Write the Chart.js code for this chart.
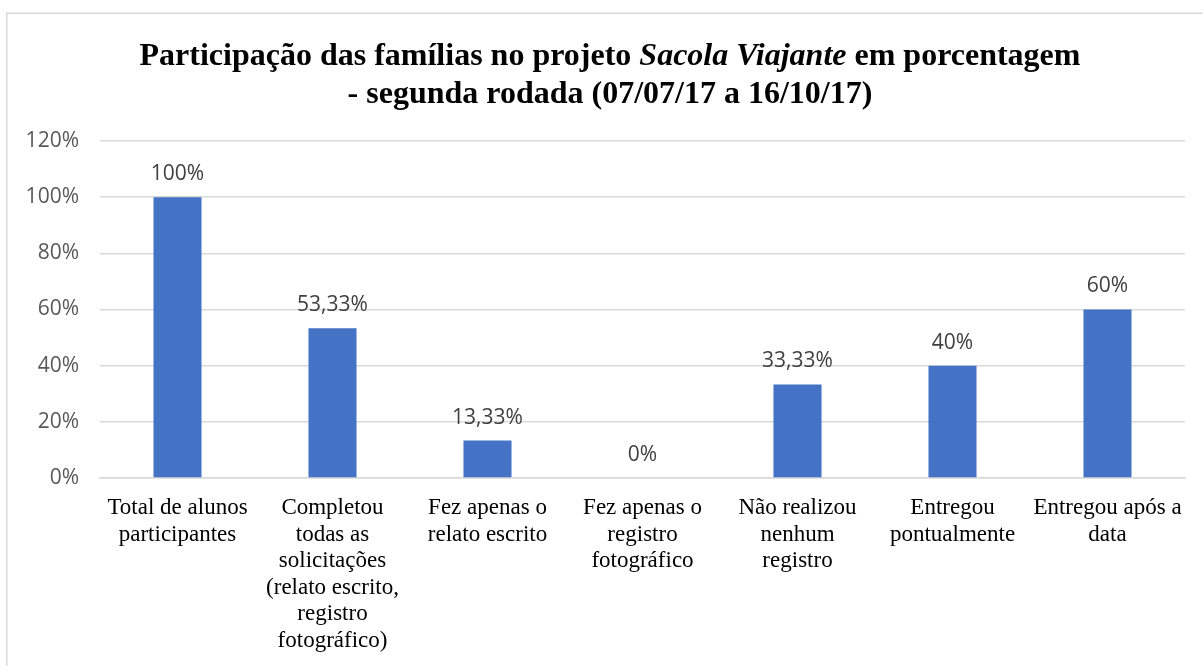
<!DOCTYPE html>
<html>
<head>
<meta charset="utf-8">
<script src="https://cdn.jsdelivr.net/npm/chart.js@4.4.1/dist/chart.umd.min.js"></script>
<style>
  body { margin: 0; background: #fff; }
  #wrap { position: relative; width: 1203px; height: 666px; }
</style>
</head>
<body>
<div id="wrap"><canvas id="c" width="1203" height="666"></canvas></div>
<script>
const categories = [
    ['Total de alunos', 'participantes'],
    ['Completou', 'todas as', 'solicitações', '(relato escrito,', 'registro', 'fotográfico)'],
    ['Fez apenas o', 'relato escrito'],
    ['Fez apenas o', 'registro', 'fotográfico'],
    ['Não realizou', 'nenhum', 'registro'],
    ['Entregou', 'pontualmente'],
    ['Entregou após a', 'data']
]
const values = [100, 53.33, 13.33, 0, 33.33, 40, 60]
const yTicks = [0, 20, 40, 60, 80, 100, 120]

// title pieces: [text, italic]
const titleLine1 = [['Participação das famílias no projeto ', false], ['Sacola Viajante', true], [' em porcentagem', false]]
const titleLine2 = [['- segunda rodada (07/07/17 a 16/10/17)', false]]

const serif = '"Liberation Serif", "Times New Roman", serif'
const sans = '"Open Sans", "Noto Sans", sans-serif'

const fmt = (v) => v.toString().replace('.', ',') + '%'

const frame = {
    id: 'frame',
    beforeDraw(chart) {
        const ctx = chart.ctx
        ctx.save()
        ctx.strokeStyle = '#d9d9d9'
        ctx.lineWidth = 1.5
        ctx.strokeRect(6.75, 13.25, 1203, 700)
        ctx.restore()
    }
}

const mixedTitle = {
    id: 'mixedTitle',
    afterDraw(chart) {
        const ctx = chart.ctx
        ctx.save()
        ctx.fillStyle = '#000'
        ctx.textBaseline = 'middle'
        const drawLine = (parts, y) => {
            let total = 0
            parts.forEach(p => {
                ctx.font = (p[1] ? 'italic ' : '') + 'bold 32px ' + serif
                total += ctx.measureText(p[0]).width
            })
            let x = 610 - total / 2
            parts.forEach(p => {
                ctx.font = (p[1] ? 'italic ' : '') + 'bold 32px ' + serif
                ctx.fillText(p[0], x, y)
                x += ctx.measureText(p[0]).width
            })
        }
        drawLine(titleLine1, 57)
        drawLine(titleLine2, 95)
        ctx.restore()
    }
}

const barLabels = {
    id: 'barLabels',
    afterDatasetsDraw(chart) {
        const ctx = chart.ctx
        const meta = chart.getDatasetMeta(0)
        ctx.save()
        ctx.font = '21px ' + sans
        ctx.fillStyle = '#404040'
        ctx.textAlign = 'center'
        ctx.textBaseline = 'middle'
        meta.data.forEach((bar, i) => {
            ctx.fillText(fmt(values[i]), bar.x, bar.y - 23)
        })
        ctx.restore()
    }
}

new Chart(document.getElementById('c'), {
    type: 'bar',
    data: {
        labels: categories,
        datasets: [{
            data: values,
            backgroundColor: '#4472c4',
            borderWidth: 0,
            barPercentage: 0.62,
            categoryPercentage: 0.5
        }]
    },
    options: {
        responsive: false,
        animation: false,
        layout: { padding: { left: 8, right: 18, top: 141, bottom: 0 } },
        plugins: {
            legend: { display: false },
            tooltip: { enabled: false },
            title: { display: false }
        },
        scales: {
            x: {
                grid: { display: false, drawTicks: false },
                border: { display: true, color: '#d9d9d9', width: 1.5 },
                ticks: {
                    color: '#000',
                    font: { family: serif, size: 23, lineHeight: 1.15 },
                    padding: 17,
                    maxRotation: 0,
                    autoSkip: false
                },
                afterFit(scale) { scale.height = 666 - 478 }
            },
            y: {
                min: 0,
                max: 120,
                afterBuildTicks(scale) { scale.ticks = yTicks.map(v => ({ value: v })) },
                grid: { color: '#d9d9d9', lineWidth: 1.5, drawTicks: false },
                border: { display: false },
                ticks: {
                    color: '#595959',
                    font: { family: sans, size: 21 },
                    padding: 21,
                    callback: (v) => v + '%'
                },
                afterFit(scale) { scale.width = 92 }
            }
        }
    },
    plugins: [frame, mixedTitle, barLabels]
})
</script>
</body>
</html>
